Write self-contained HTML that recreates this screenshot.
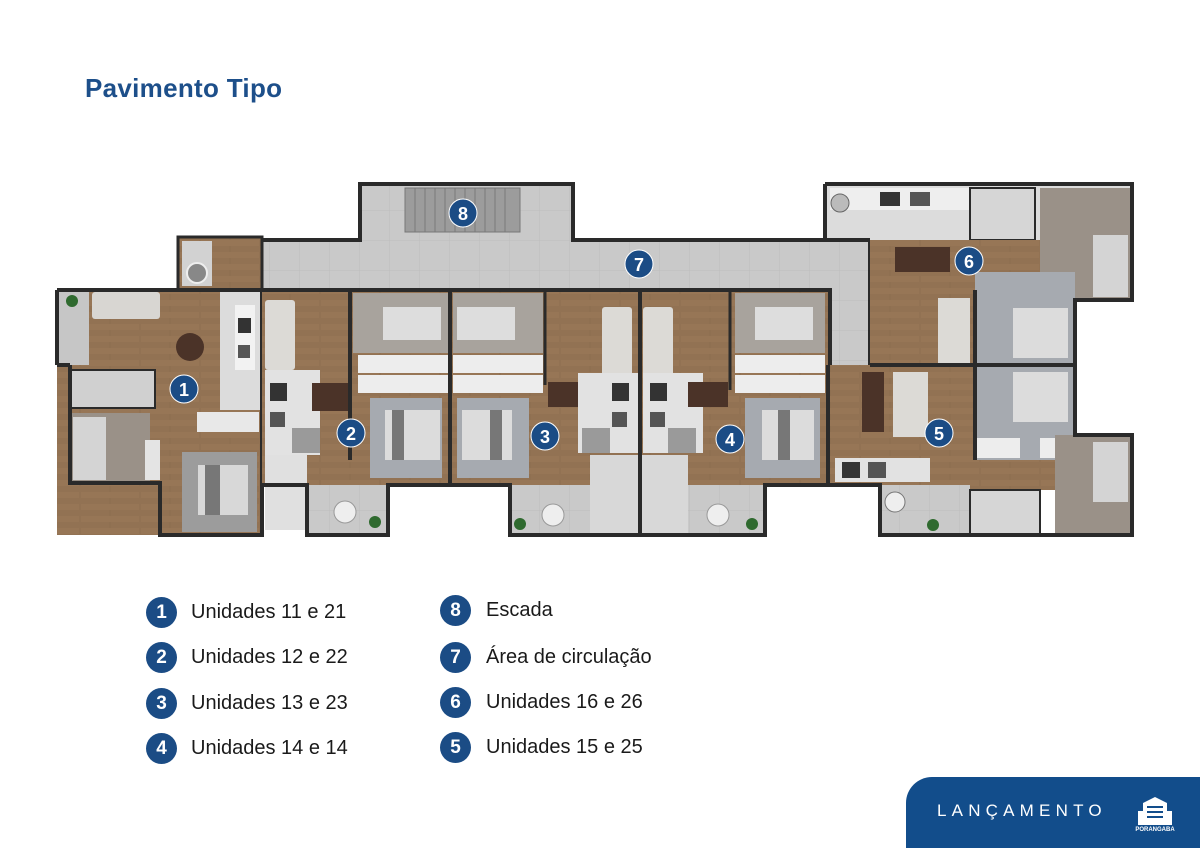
<!DOCTYPE html>
<html><head><meta charset="utf-8"><style>
html,body{margin:0;padding:0;background:#fff;}
body{width:1200px;height:848px;position:relative;overflow:hidden;font-family:"Liberation Sans",sans-serif;}
.t{position:absolute;left:85px;top:73px;font-size:26px;font-weight:bold;color:#1d4f8a;letter-spacing:0.3px}
.lg{position:absolute;font-size:20px;color:#1a1a1a;}
.lg span.c{position:absolute;width:31px;height:31px;border-radius:50%;background:#1b4c85;color:#fff;font-weight:bold;font-size:19px;text-align:center;line-height:31px;}
.lg span.x{position:absolute;white-space:nowrap;top:4px}
.ban{position:absolute;left:906px;top:777px;width:294px;height:71px;background:#124d8b;border-top-left-radius:26px;}
.ban .l{position:absolute;left:31px;top:24px;color:#fff;font-size:17px;letter-spacing:5.2px}
</style></head><body>
<div class="t">Pavimento Tipo</div>

<svg width="1200" height="848" style="position:absolute;left:0;top:0">
<defs>
<pattern id="tile" width="30" height="30" patternUnits="userSpaceOnUse"><rect width="30" height="30" fill="#c9c9c9"/><path d="M0 0H30V30" fill="none" stroke="#bdbdbd" stroke-width="1"/></pattern>
<pattern id="wood" width="60" height="12" patternUnits="userSpaceOnUse"><rect width="60" height="12" fill="#977656"/><rect y="6" width="60" height="6" fill="#927253"/><path d="M20 0V6M50 6V12" stroke="#88694c" stroke-width="0.6"/></pattern>
</defs>
<!-- stairs + corridor -->
<rect x="360" y="184" width="213" height="60" fill="url(#tile)" stroke="#2a2a2a" stroke-width="4"/>
<g fill="#9c9c9c" stroke="#777"><rect x="405" y="188" width="115" height="44"/></g>
<path d="M415 188V232M425 188V232M435 188V232M445 188V232M455 188V232M465 188V232M475 188V232M485 188V232M495 188V232M505 188V232" stroke="#7a7a7a"/>
<rect x="262" y="240" width="608" height="50" fill="url(#tile)"/>
<rect x="830" y="290" width="40" height="75" fill="url(#tile)"/>
<path d="M262 240H360V184H573V240H870V365" fill="none" stroke="#2a2a2a" stroke-width="4"/>
<!-- unit 1 -->
<rect x="178" y="237" width="84" height="53" fill="url(#wood)" stroke="#2a2a2a" stroke-width="3"/>
<rect x="182" y="241" width="30" height="45" fill="#d2d2d2"/>
<circle cx="197" cy="273" r="10" fill="#888" stroke="#eee" stroke-width="2"/>
<rect x="57" y="290" width="205" height="245" fill="url(#wood)"/>
<rect x="57" y="290" width="32" height="75" fill="#c6c6c6"/>
<circle cx="72" cy="301" r="6" fill="#2f6a2f"/>
<rect x="92" y="292" width="68" height="27" fill="#d8d6d2" rx="3"/>
<circle cx="190" cy="347" r="14" fill="#4b3328"/>
<rect x="220" y="292" width="40" height="118" fill="#dcdcdc"/>
<rect x="235" y="305" width="20" height="65" fill="#f2f2f2"/><rect x="238" y="318" width="13" height="15" fill="#333"/><rect x="238" y="345" width="12" height="13" fill="#555"/>
<rect x="70" y="370" width="85" height="38" fill="#d0d0d0" stroke="#2a2a2a" stroke-width="2"/>
<rect x="72" y="413" width="78" height="70" fill="#9a9188"/>
<rect x="73" y="417" width="33" height="63" fill="#d4d4d4"/>
<rect x="145" y="440" width="15" height="40" fill="#e4e4e4"/>
<rect x="197" y="412" width="62" height="20" fill="#e8e8e8"/>
<rect x="182" y="452" width="75" height="80" fill="#9c9c9c"/>
<rect x="198" y="465" width="50" height="50" fill="#d8d8d8"/><rect x="205" y="465" width="15" height="50" fill="#777"/>
<path d="M57 290H262M57 290V365M70 365V483H160V535H262V290" fill="none" stroke="#2a2a2a" stroke-width="4"/>
<path d="M57 365H70" stroke="#2a2a2a" stroke-width="4"/>
<!-- units 2-4 -->
<rect x="262" y="290" width="568" height="195" fill="url(#wood)"/>
<!-- u2 -->
<rect x="265" y="300" width="30" height="70" fill="#dcdad6" rx="3"/>
<rect x="265" y="370" width="55" height="85" fill="#e2e2e2"/><rect x="270" y="383" width="17" height="18" fill="#333"/><rect x="270" y="412" width="15" height="15" fill="#555"/><rect x="292" y="428" width="28" height="25" fill="#9a9a9a"/>
<rect x="312" y="383" width="40" height="28" fill="#4b3328"/>
<rect x="353" y="293" width="95" height="60" fill="#a8a39d"/><rect x="383" y="307" width="58" height="33" fill="#ddd"/>
<rect x="358" y="355" width="90" height="18" fill="#ededed"/><rect x="358" y="375" width="90" height="18" fill="#ededed"/>
<rect x="370" y="398" width="72" height="80" fill="#a6aab0"/><rect x="385" y="410" width="55" height="50" fill="#dcdcdc"/><rect x="392" y="410" width="12" height="50" fill="#777"/>
<rect x="265" y="455" width="42" height="75" fill="#e0e0e0"/><rect x="307" y="485" width="81" height="50" fill="url(#tile)"/>
<circle cx="345" cy="512" r="11" fill="#eee" stroke="#999"/><circle cx="375" cy="522" r="6" fill="#2f6a2f"/>
<!-- u3 -->
<rect x="453" y="293" width="90" height="60" fill="#a8a39d"/><rect x="457" y="307" width="58" height="33" fill="#ddd"/>
<rect x="453" y="355" width="90" height="18" fill="#ededed"/><rect x="453" y="375" width="90" height="18" fill="#ededed"/>
<rect x="457" y="398" width="72" height="80" fill="#a6aab0"/><rect x="462" y="410" width="50" height="50" fill="#dcdcdc"/><rect x="490" y="410" width="12" height="50" fill="#777"/>
<rect x="602" y="307" width="30" height="70" fill="#dcdad6" rx="3"/>
<rect x="548" y="382" width="30" height="25" fill="#4b3328"/>
<rect x="578" y="373" width="60" height="80" fill="#e2e2e2"/><rect x="612" y="383" width="17" height="18" fill="#333"/><rect x="612" y="412" width="15" height="15" fill="#555"/><rect x="582" y="428" width="28" height="25" fill="#9a9a9a"/>
<rect x="510" y="485" width="130" height="50" fill="url(#tile)"/><rect x="590" y="455" width="50" height="80" fill="#d8d8d8"/>
<circle cx="553" cy="515" r="11" fill="#eee" stroke="#999"/><circle cx="520" cy="524" r="6" fill="#2f6a2f"/>
<!-- u4 -->
<rect x="643" y="307" width="30" height="70" fill="#dcdad6" rx="3"/>
<rect x="643" y="373" width="60" height="80" fill="#e2e2e2"/><rect x="650" y="383" width="17" height="18" fill="#333"/><rect x="650" y="412" width="15" height="15" fill="#555"/><rect x="668" y="428" width="28" height="25" fill="#9a9a9a"/>
<rect x="688" y="382" width="40" height="25" fill="#4b3328"/>
<rect x="735" y="293" width="90" height="60" fill="#a8a39d"/><rect x="755" y="307" width="58" height="33" fill="#ddd"/>
<rect x="735" y="355" width="90" height="18" fill="#ededed"/><rect x="735" y="375" width="90" height="18" fill="#ededed"/>
<rect x="745" y="398" width="75" height="80" fill="#a6aab0"/><rect x="762" y="410" width="52" height="50" fill="#dcdcdc"/><rect x="778" y="410" width="12" height="50" fill="#777"/>
<rect x="640" y="485" width="125" height="50" fill="url(#tile)"/><rect x="640" y="455" width="48" height="80" fill="#d8d8d8"/>
<circle cx="718" cy="515" r="11" fill="#eee" stroke="#999"/><circle cx="752" cy="524" r="6" fill="#2f6a2f"/>
<path d="M262 290H830V485M262 485H307V535H388V485H510V535H765V485H830M450 290V485M640 290V535M350 290V460" fill="none" stroke="#2a2a2a" stroke-width="4"/>
<path d="M350 290V345M545 290V385M730 290V390" stroke="#2a2a2a" stroke-width="3"/>
<!-- right block -->
<rect x="825" y="184" width="307" height="56" fill="#dcdcdc"/>
<rect x="830" y="188" width="140" height="22" fill="#eeeeee"/><circle cx="840" cy="203" r="9" fill="#bbb" stroke="#666"/><rect x="880" y="192" width="20" height="14" fill="#333"/><rect x="910" y="192" width="20" height="14" fill="#555"/>
<rect x="970" y="188" width="65" height="52" fill="#d6d6d6" stroke="#2a2a2a" stroke-width="2"/>
<rect x="1040" y="188" width="90" height="112" fill="#9a9188"/><rect x="1093" y="235" width="35" height="62" fill="#d4d4d4"/>
<rect x="870" y="240" width="105" height="125" fill="url(#wood)"/>
<rect x="895" y="247" width="55" height="25" fill="#4b3328"/>
<rect x="938" y="298" width="32" height="65" fill="#dcdad6"/>
<rect x="975" y="240" width="65" height="50" fill="url(#wood)"/>
<rect x="975" y="272" width="100" height="92" fill="#a6aab0"/><rect x="1013" y="308" width="55" height="50" fill="#dcdcdc"/>
<rect x="828" y="365" width="147" height="120" fill="url(#wood)"/>
<rect x="862" y="372" width="22" height="60" fill="#4b3328"/><rect x="893" y="372" width="35" height="65" fill="#dcdad6"/>
<rect x="835" y="458" width="95" height="24" fill="#e2e2e2"/><rect x="842" y="462" width="18" height="16" fill="#333"/><rect x="868" y="462" width="18" height="16" fill="#555"/>
<rect x="975" y="365" width="100" height="95" fill="#a6aab0"/><rect x="1013" y="372" width="55" height="50" fill="#dcdcdc"/>
<rect x="975" y="438" width="45" height="20" fill="#ededed"/><rect x="1040" y="438" width="35" height="20" fill="#ededed"/>
<rect x="930" y="460" width="125" height="30" fill="url(#wood)"/>
<rect x="1055" y="435" width="75" height="100" fill="#9a9188"/><rect x="1093" y="442" width="35" height="60" fill="#d4d4d4"/>
<rect x="880" y="485" width="90" height="50" fill="url(#tile)"/><circle cx="895" cy="502" r="10" fill="#eee" stroke="#777"/><circle cx="933" cy="525" r="6" fill="#2f6a2f"/>
<rect x="970" y="490" width="70" height="45" fill="#d6d6d6" stroke="#2a2a2a" stroke-width="2"/>
<path d="M825 184H1132V300H1075V435H1132V535H880V485H828V365M825 184V240H870M975 290V460M870 365H1075" fill="none" stroke="#2a2a2a" stroke-width="4"/>
<!-- badges -->
<g fill="#1b4c85" stroke="#fff" stroke-width="1">
<circle cx="463" cy="213" r="14"/><circle cx="639" cy="264" r="14"/><circle cx="969" cy="261" r="14"/><circle cx="184" cy="389" r="14"/><circle cx="351" cy="433" r="14"/><circle cx="545" cy="436" r="14"/><circle cx="730" cy="439" r="14"/><circle cx="939" cy="433" r="14"/>
</g>
<g fill="#fff" font-family="Liberation Sans" font-weight="bold" font-size="18" text-anchor="middle">
<text x="463" y="220">8</text><text x="639" y="271">7</text><text x="969" y="268">6</text><text x="184" y="396">1</text><text x="351" y="440">2</text><text x="545" y="443">3</text><text x="730" y="446">4</text><text x="939" y="440">5</text>
</g>
</svg>

<div class="lg" style="left:146px;top:597px"><span class="c">1</span><span class="x" style="left:45px">Unidades 11 e 21</span></div>
<div class="lg" style="left:146px;top:642px"><span class="c">2</span><span class="x" style="left:45px">Unidades 12 e 22</span></div>
<div class="lg" style="left:146px;top:688px"><span class="c">3</span><span class="x" style="left:45px">Unidades 13 e 23</span></div>
<div class="lg" style="left:146px;top:733px"><span class="c">4</span><span class="x" style="left:45px">Unidades 14 e 14</span></div>
<div class="lg" style="left:440px;top:595px"><span class="c">8</span><span class="x" style="left:46px">Escada</span></div>
<div class="lg" style="left:440px;top:642px"><span class="c">7</span><span class="x" style="left:46px">Área de circulação</span></div>
<div class="lg" style="left:440px;top:687px"><span class="c">6</span><span class="x" style="left:46px">Unidades 16 e 26</span></div>
<div class="lg" style="left:440px;top:732px"><span class="c">5</span><span class="x" style="left:46px">Unidades 15 e 25</span></div>

<div class="ban"><div class="l">LANÇAMENTO</div>
<svg width="40" height="40" style="position:absolute;left:229px;top:14px">
<path d="M8 12L20 6L32 12V34H8Z" fill="#fff"/><path d="M12 16H28M12 21H28M12 26H28" stroke="#124d8b" stroke-width="2"/>
<rect x="3" y="20" width="5" height="14" fill="#fff"/><rect x="32" y="20" width="5" height="14" fill="#fff"/>
<text x="20" y="40" font-size="6" font-weight="bold" fill="#fff" text-anchor="middle" font-family="Liberation Sans">PORANGABA</text>
</svg></div>
</body></html>
